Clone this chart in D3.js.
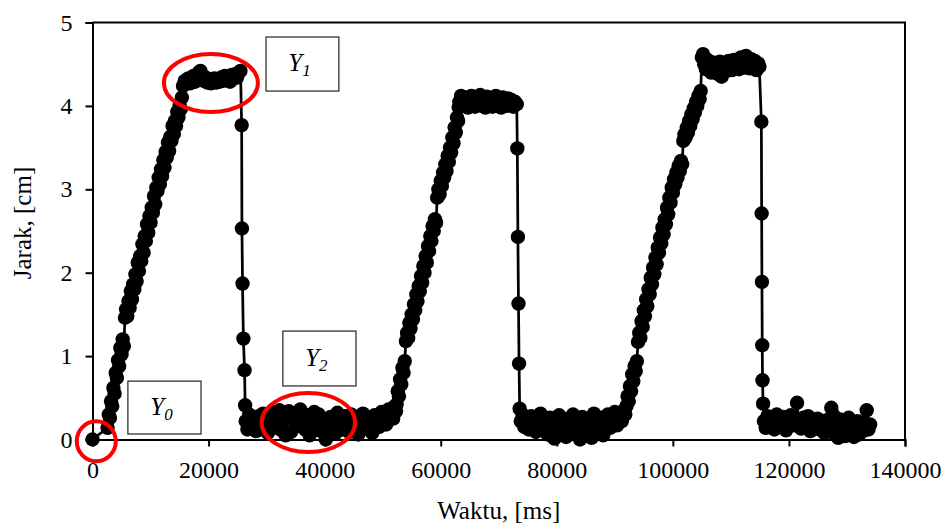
<!DOCTYPE html>
<html>
<head>
<meta charset="utf-8">
<script src="https://cdn.jsdelivr.net/npm/d3@7"></script>
<style>
body { margin: 0; background: #fff; }
svg text { font-family: "Liberation Serif", "Times New Roman", serif; fill: #000; }
</style>
</head>
<body>
<script>
// [waktu ms, jarak cm]
var awal = [[0, 0]];

var naik1 = [
    [2600,0.14],[2800,0.30],[3000,0.26],[3200,0.46],[3400,0.40],[3600,0.62],[3800,0.55],[4000,0.80],
    [4200,0.74],[4400,0.95],[4600,0.88],[4800,1.10],[5000,1.02],[5200,1.20],[5400,1.12],[5600,1.46],
    [5800,1.56],[6000,1.48],[6200,1.66],[6400,1.58],[6600,1.78],[6800,1.68],[7000,1.86],[7200,1.80],
    [7400,1.98],[7600,1.90],[7800,2.12],[8000,2.02],[8200,2.20],[8400,2.14],[8600,2.34],[8800,2.24],
    [9000,2.44],[9200,2.38],[9400,2.58],[9600,2.48],[9800,2.68],[10000,2.60],[10200,2.78],[10400,2.72],
    [10600,2.92],[10800,2.82],[11000,3.02],[11200,2.98],[11400,3.14],[11600,3.06],[11800,3.24],[12000,3.16],
    [12200,3.35],[12400,3.26],[12600,3.45],[12800,3.38],[13000,3.56],[13200,3.46],[13400,3.63],[13600,3.58],
    [13800,3.76],[14000,3.66],[14200,3.82],[14400,3.76],[14600,3.93],[14800,3.86],[15000,4.01],[15200,3.96],
    [15400,4.10]
];
var atas1 = [
    [15600,4.24],[15900,4.30],[16200,4.28],[16500,4.33],[16800,4.27],[17100,4.31],[17400,4.36],[17700,4.29],
    [18000,4.33],[18300,4.40],[18600,4.42],[18900,4.35],[19200,4.30],[19500,4.34],[19800,4.28],[20100,4.31],
    [20400,4.27],[20700,4.30],[21000,4.33],[21300,4.28],[21600,4.32],[21900,4.29],[22200,4.34],[22500,4.30],
    [22800,4.36],[23100,4.31],[23400,4.35],[23700,4.29],[24000,4.37],[24300,4.33],[24600,4.38],[24900,4.34],
    [25200,4.40],[25500,4.42]
];
var turun1 = [[25700,3.77],[25750,2.53],[25850,1.87],[26000,1.21],[26200,0.83],[26300,0.41]];
var bawah1 = [
    [26400,0.22],[26700,0.12],[27000,0.30],[27400,0.18],[27800,0.25],[28200,0.10],[28600,0.28],[29000,0.15],
    [29400,0.31],[29800,0.20],[30200,0.08],[30600,0.26],[31000,0.33],[31400,0.14],[31800,0.22],[32200,0.35],
    [32600,0.11],[33000,0.27],[33300,0.05],[33800,0.34],[34200,0.09],[34600,0.24],[35000,0.31],[35400,0.16],
    [35800,0.36],[36200,0.21],[36600,0.12],[37000,0.29],[37400,0.05],[37800,0.25],[38200,0.33],[38600,0.17],
    [39000,0.30],[39400,0.10],[39800,0.22],[40200,0.00],[40600,0.14],[41000,0.27],[41400,0.19],[41800,0.07],
    [42200,0.32],[42600,0.21],[43000,0.12],[43400,0.28],[43800,0.24],[44200,0.09],[44600,0.30],[45000,0.17],
    [45400,0.26],[45800,0.06],[46200,0.22],[46600,0.31],[47000,0.13],[47400,0.27],[47800,0.20],[48200,0.08],
    [48600,0.29],[49000,0.24],[49400,0.15],[49800,0.33],[50200,0.27],[50600,0.18],[51000,0.36],[51400,0.30],
    [51800,0.25],[52100,0.40],[52300,0.34]
];
var naik2 = [
    [52400,0.42],[52600,0.58],[52800,0.52],[53000,0.72],[53200,0.66],[53400,0.86],[53600,0.80],[53800,0.94],
    [54000,1.18],[54200,1.28],[54400,1.22],[54600,1.40],[54800,1.33],[55000,1.50],[55200,1.44],[55400,1.62],
    [55600,1.55],[55800,1.74],[56000,1.66],[56200,1.84],[56400,1.78],[56600,1.96],[56800,1.88],[57000,2.08],
    [57200,2.00],[57400,2.20],[57600,2.12],[57800,2.32],[58000,2.26],[58200,2.44],[58400,2.38],[58600,2.56],
    [58800,2.50],[59000,2.64],[59200,2.60],[59400,2.90],[59600,3.00],[59800,2.94],[60000,3.10],[60200,3.04],
    [60400,3.20],[60600,3.14],[60800,3.30],[61000,3.22],[61200,3.40],[61400,3.33],[61600,3.50],[61800,3.44],
    [62000,3.62],[62200,3.55],[62400,3.74],[62600,3.68],[62800,3.86],[63000,3.82],[63100,3.98]
];
var atas2 = [
    [63200,4.05],[63500,4.12],[63800,4.08],[64100,4.01],[64400,4.10],[64700,3.98],[65000,4.06],[65300,4.12],
    [65600,4.03],[65900,3.99],[66200,4.09],[66500,4.05],[66800,4.13],[67100,4.00],[67400,4.07],[67700,3.98],
    [68000,4.11],[68300,4.04],[68600,4.09],[68900,3.99],[69200,4.06],[69500,4.12],[69800,4.02],[70100,4.08],
    [70400,3.98],[70700,4.10],[71000,4.05],[71300,4.00],[71600,4.09],[71900,4.03],[72200,4.07],[72500,3.99],
    [72800,4.05],[73100,4.02]
];
var turun2 = [[73200,3.49],[73300,2.43],[73400,1.63],[73500,0.91],[73600,0.37]];
var bawah2 = [
    [73800,0.22],[74100,0.30],[74400,0.15],[74800,0.25],[75200,0.12],[75600,0.28],[76000,0.18],[76400,0.09],
    [76800,0.24],[77200,0.31],[77600,0.14],[78000,0.20],[78400,0.06],[78800,0.26],[79200,0.17],[79600,0.01],
    [80000,0.22],[80400,0.29],[80800,0.11],[81200,0.19],[81600,0.03],[82000,0.25],[82400,0.15],[82800,0.30],
    [83200,0.08],[83600,0.21],[84000,0.00],[84400,0.27],[84800,0.16],[85200,0.10],[85600,0.24],[86000,0.02],
    [86400,0.31],[86800,0.18],[87200,0.12],[87600,0.26],[88000,0.05],[88400,0.22],[88800,0.30],[89200,0.14],
    [89600,0.20],[90000,0.33],[90400,0.17],[90800,0.28],[91200,0.22],[91600,0.35],[91800,0.30]
];
var naik3 = [
    [92000,0.40],[92200,0.52],[92400,0.46],[92600,0.64],[92800,0.58],[93000,0.78],[93200,0.70],[93400,0.88],
    [93600,0.82],[93800,0.94],[94000,1.17],[94200,1.28],[94400,1.22],[94600,1.42],[94800,1.35],[95000,1.55],
    [95200,1.48],[95400,1.68],[95600,1.60],[95800,1.80],[96000,1.74],[96200,1.94],[96400,1.86],[96600,2.06],
    [96800,1.98],[97000,2.18],[97200,2.10],[97400,2.30],[97600,2.24],[97800,2.42],[98000,2.35],[98200,2.54],
    [98400,2.46],[98600,2.64],[98800,2.58],[99000,2.78],[99200,2.70],[99400,2.90],[99600,2.84],[99800,3.02],
    [100000,2.96],[100200,3.12],[100400,3.06],[100600,3.20],[100800,3.14],[101000,3.28],[101200,3.22],[101400,3.34],
    [101600,3.30],[101800,3.58],[102000,3.66],[102200,3.62],[102400,3.74],[102600,3.68],[102800,3.82],[103000,3.76],
    [103200,3.90],[103400,3.84],[103600,3.97],[103800,3.92],[104000,4.05],[104200,4.00],[104400,4.12],[104600,4.08],
    [104800,4.18]
];
var atas3 = [
    [105000,4.58],[105200,4.62],[105400,4.50],[105700,4.44],[106000,4.55],[106300,4.47],[106600,4.40],[106900,4.52],
    [107200,4.45],[107500,4.49],[107800,4.38],[108100,4.53],[108400,4.35],[108700,4.46],[109000,4.50],[109300,4.42],
    [109600,4.54],[109900,4.47],[110200,4.43],[110500,4.55],[110800,4.48],[111100,4.52],[111400,4.44],[111700,4.58],
    [112000,4.50],[112300,4.46],[112600,4.60],[112900,4.53],[113200,4.45],[113500,4.56],[113800,4.49],[114100,4.54],
    [114400,4.43],[114700,4.51],[114900,4.47]
];
var turun3 = [[115250,3.81],[115300,2.71],[115350,1.89],[115400,1.13],[115450,0.71],[115550,0.43]];
var bawah3 = [
    [115700,0.22],[116000,0.14],[116300,0.28],[116700,0.18],[117100,0.25],[117500,0.12],[117900,0.30],[118300,0.20],
    [118700,0.16],[119100,0.27],[119500,0.11],[119900,0.23],[120300,0.29],[120700,0.17],[121100,0.24],[121400,0.44],
    [121700,0.21],[122100,0.13],[122500,0.26],[122900,0.19],[123300,0.28],[123700,0.10],[124100,0.22],[124500,0.17],
    [124900,0.25],[125300,0.12],[125700,0.20],[126100,0.08],[126500,0.23],[126900,0.15],[127300,0.38],[127600,0.30],
    [127900,0.06],[128200,0.18],[128500,0.02],[128800,0.24],[129100,0.10],[129400,0.20],[129700,0.04],[130000,0.16],
    [130300,0.26],[130600,0.08],[130900,0.19],[131200,0.03],[131500,0.14],[131800,0.22],[132100,0.06],[132400,0.17],
    [132700,0.10],[133000,0.20],[133400,0.35],[133700,0.12],[134000,0.18]
];

var xTicks = [0, 20000, 40000, 60000, 80000, 100000, 120000, 140000];
var yTicks = [0, 1, 2, 3, 4, 5];
var judulX = "Waktu, [ms]";
var judulY = "Jarak, [cm]";
var labelHuruf = ["Y", "Y", "Y"];
var labelIndeks = ["0", "1", "2"];

function svg_chart(data){

    var width = 947;
    var height = 524;
    var left = 92.5, right = 905, top = 22.5, bottom = 439.5;

    var x = d3.scaleLinear()
        .domain([0, 140000])
        .range([left, right]);

    var y = d3.scaleLinear()
        .domain([0, 5])
        .range([bottom, top]);

    var canv = d3.select("body")
        .append("svg")
        .attr("width", width)
        .attr("height", height);

    // bingkai atas dan kanan
    canv.append("path")
        .attr("d", "M" + x(0) + "," + y(5) + "H" + x(140000) + "V" + y(0))
        .attr("fill", "none")
        .attr("stroke", "#000")
        .attr("stroke-width", 2);

    var gx = canv.append("g")
        .attr("transform", "translate(0," + y(0) + ")")
        .call(d3.axisBottom(x).tickValues(xTicks).tickSize(7).tickPadding(14).tickFormat(d3.format("d")));

    var gy = canv.append("g")
        .attr("transform", "translate(" + x(0) + ",0)")
        .call(d3.axisLeft(y).tickValues(yTicks).tickSize(7).tickPadding(13).tickFormat(d3.format("d")));

    [gx, gy].forEach(function(g){
        g.select(".domain").attr("stroke", "#000").attr("stroke-width", 2);
        g.selectAll(".tick line").attr("stroke", "#000").attr("stroke-width", 2);
        g.selectAll(".tick text")
            .attr("font-family", "Liberation Serif")
            .attr("font-size", 24)
            .attr("fill", "#000");
    });

    canv.append("text")
        .attr("x", (x(0) + x(140000)) / 2)
        .attr("y", 519)
        .attr("text-anchor", "middle")
        .attr("font-size", 25)
        .text(judulX);

    canv.append("text")
        .attr("transform", "translate(31,223) rotate(-90)")
        .attr("text-anchor", "middle")
        .attr("font-size", 25)
        .text(judulY);

    var line = d3.line()
        .x(function(d){ return x(d[0]); })
        .y(function(d){ return y(d[1]); });

    canv.append("path")
        .datum(data)
        .attr("d", line)
        .attr("fill", "none")
        .attr("stroke", "#000")
        .attr("stroke-width", 2.75);

    canv.append("g").selectAll("circle")
        .data(data)
        .enter()
            .append("circle")
            .attr("cx", function(d){ return x(d[0]); })
            .attr("cy", function(d){ return y(d[1]); })
            .attr("r", 7.2)
            .attr("fill", "#000");

    // kotak label, posisi dalam koordinat data
    var kotak = [
        {x0: 6100, x1: 18700, y0: 0.70, y1: 0.066},
        {x0: 29900, x1: 42450, y0: 4.826, y1: 4.178},
        {x0: 32800, x1: 45400, y0: 1.30, y1: 0.642}
    ];
    kotak.forEach(function(k, i){
        canv.append("rect")
            .attr("x", x(k.x0))
            .attr("y", y(k.y0))
            .attr("width", x(k.x1) - x(k.x0))
            .attr("height", y(k.y1) - y(k.y0))
            .attr("fill", "#fff")
            .attr("stroke", "#222")
            .attr("stroke-width", 1.2);
        var t = canv.append("text")
            .attr("x", (x(k.x0) + x(k.x1)) / 2 - 3)
            .attr("y", (y(k.y0) + y(k.y1)) / 2 + 7)
            .attr("text-anchor", "middle")
            .attr("font-style", "italic")
            .attr("font-size", 25)
            .text(labelHuruf[i]);
        t.append("tspan")
            .attr("font-size", 17)
            .attr("dy", 5)
            .text(labelIndeks[i]);
    });

    // lingkaran merah penanda Y0, Y1, Y2
    var tanda = [
        {t: 650, v: -0.02, rx: 19.5, ry: 20},
        {t: 20400, v: 4.275, rx: 47, ry: 29},
        {t: 37200, v: 0.204, rx: 46.7, ry: 29.5}
    ];
    canv.append("g").selectAll("ellipse")
        .data(tanda)
        .enter()
            .append("ellipse")
            .attr("cx", function(d){ return x(d.t); })
            .attr("cy", function(d){ return y(d.v); })
            .attr("rx", function(d){ return d.rx; })
            .attr("ry", function(d){ return d.ry; })
            .attr("fill", "none")
            .attr("stroke", "#ff0000")
            .attr("stroke-width", 4);
}

svg_chart([].concat(awal, naik1, atas1, turun1, bawah1, naik2, atas2, turun2, bawah2, naik3, atas3, turun3, bawah3));
</script>
</body>
</html>
